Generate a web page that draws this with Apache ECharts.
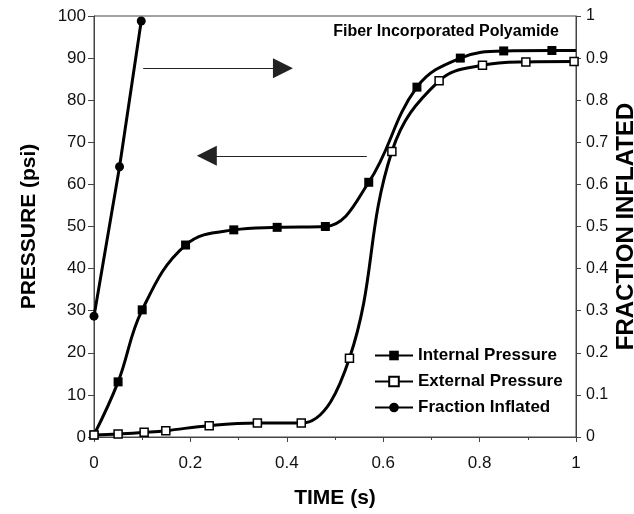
<!DOCTYPE html>
<html>
<head>
<meta charset="utf-8">
<script src="https://cdn.jsdelivr.net/npm/echarts@6/dist/echarts.min.js"></script>
<style>
  html, body { margin: 0; padding: 0; background: #fff; overflow: hidden; }
  #chart { width: 634px; height: 514px; }
</style>
</head>
<body>
<div id="chart"></div>
<script>
// values
const internalTime = [0, 0.05, 0.1, 0.19, 0.29, 0.38, 0.48, 0.57, 0.67, 0.76, 0.85, 0.95, 1.0]
const internalPressure = [0.5, 13.1, 30.2, 45.6, 49.2, 49.8, 50.0, 60.5, 83.1, 90.0, 91.7, 91.8, 91.8]

const externalTime = [0, 0.05, 0.104, 0.149, 0.239, 0.339, 0.43, 0.53, 0.618, 0.716, 0.806, 0.896, 0.996]
const externalPressure = [0.5, 0.7, 1.1, 1.5, 2.7, 3.3, 3.3, 18.7, 67.8, 84.6, 88.3, 89.1, 89.2]

const fractionTime = [0, 0.053, 0.098]
const fractionInflated = [0.287, 0.642, 0.988]

// annotation arrows [fromTime, toTime, pressure]
const arrowRight = [0.102, 0.392, 87.6]
const arrowLeft = [0.566, 0.234, 66.8]

const FONT = '"Liberation Sans", Arial, sans-serif'

window.addEventListener('DOMContentLoaded', () => {
    const chart = echarts.init(document.getElementById('chart'))

    const zip = (xs, ys) => xs.map((x, i) => [x, ys[i]])

    const internalData = zip(internalTime, internalPressure)
    // last point only carries the line to the axis, no marker
    internalData[internalData.length - 1] = { value: internalData[internalData.length - 1], symbol: 'none' }

    const arrow = a => [
        { coord: [a[0], a[2]], symbol: 'none' },
        { coord: [a[1], a[2]], symbol: 'triangle', symbolSize: 20 }
    ]

    const tickLabel = { color: '#111', fontFamily: FONT, fontSize: 17 }
    const axisName = { color: '#000', fontFamily: FONT, fontSize: 21, fontWeight: 'bold' }

    chart.setOption({
        animation: false,
        backgroundColor: '#fff',
        title: {
            text: 'Fiber Incorporated Polyamide',
            right: 70,
            top: 19,
            textStyle: { fontFamily: FONT, fontSize: 16, fontWeight: 'bold', color: '#000' }
        },
        legend: {
            orient: 'vertical',
            left: 374,
            top: 347,
            padding: 0,
            itemWidth: 38,
            itemHeight: 12,
            itemGap: 9,
            textStyle: { fontFamily: FONT, fontSize: 17, fontWeight: 'bold', color: '#000' },
            data: ['Internal Pressure', 'External Pressure', 'Fraction Inflated']
        },
        grid: {
            left: 94, right: 58, top: 16, bottom: 77,
            outerBoundsMode: 'none',
            show: true, borderColor: '#444', borderWidth: 1
        },
        xAxis: {
            type: 'value',
            min: 0, max: 1, interval: 0.2,
            name: 'TIME (s)',
            nameLocation: 'middle',
            nameGap: 51,
            nameMoveOverlap: false,
            nameTextStyle: axisName,
            axisLine: { lineStyle: { color: '#444' } },
            axisTick: { length: 5, lineStyle: { color: '#444' } },
            minorTick: { show: true, splitNumber: 2, length: 3, lineStyle: { color: '#444' } },
            axisLabel: { ...tickLabel, margin: 18 },
            splitLine: { show: false }
        },
        yAxis: [
            {
                type: 'value',
                min: 0, max: 100, interval: 10,
                name: 'PRESSURE (psi)',
                nameLocation: 'middle',
                nameGap: 54,
                nameMoveOverlap: false,
                nameTextStyle: axisName,
                axisLine: { show: true, lineStyle: { color: '#444' } },
                axisTick: { show: true, length: 6, lineStyle: { color: '#444' } },
                axisLabel: { ...tickLabel, margin: 8 },
                splitLine: { show: false }
            },
            {
                type: 'value',
                min: 0, max: 1, interval: 0.1,
                name: 'FRACTION INFLATED',
                nameLocation: 'middle',
                nameGap: 38,
                nameMoveOverlap: false,
                nameRotate: 90,
                nameTextStyle: { ...axisName, fontSize: 24 },
                position: 'right',
                axisLine: { show: true, lineStyle: { color: '#444' } },
                axisTick: { show: true, length: 5, lineStyle: { color: '#444' } },
                axisLabel: { ...tickLabel, fontSize: 16, margin: 10 },
                splitLine: { show: false }
            }
        ],
        series: [
            {
                name: 'Internal Pressure',
                type: 'line',
                smooth: 0.4,
                data: internalData,
                symbol: 'rect',
                symbolSize: 9,
                itemStyle: { color: '#000' },
                lineStyle: { color: '#000', width: 3 },
                markLine: {
                    silent: true,
                    label: { show: false },
                    lineStyle: { color: '#222', width: 1, type: 'solid' },
                    itemStyle: { color: '#000' },
                    data: [arrow(arrowRight), arrow(arrowLeft)]
                }
            },
            {
                name: 'External Pressure',
                type: 'line',
                smooth: 0.4,
                data: zip(externalTime, externalPressure),
                symbol: 'rect',
                symbolSize: 8,
                itemStyle: { color: '#fff', borderColor: '#000', borderWidth: 1.5 },
                lineStyle: { color: '#000', width: 3 }
            },
            {
                name: 'Fraction Inflated',
                type: 'line',
                yAxisIndex: 1,
                data: zip(fractionTime, fractionInflated),
                symbol: 'circle',
                symbolSize: 9,
                itemStyle: { color: '#000' },
                lineStyle: { color: '#000', width: 3 }
            }
        ]
    })
})
</script>
</body>
</html>
